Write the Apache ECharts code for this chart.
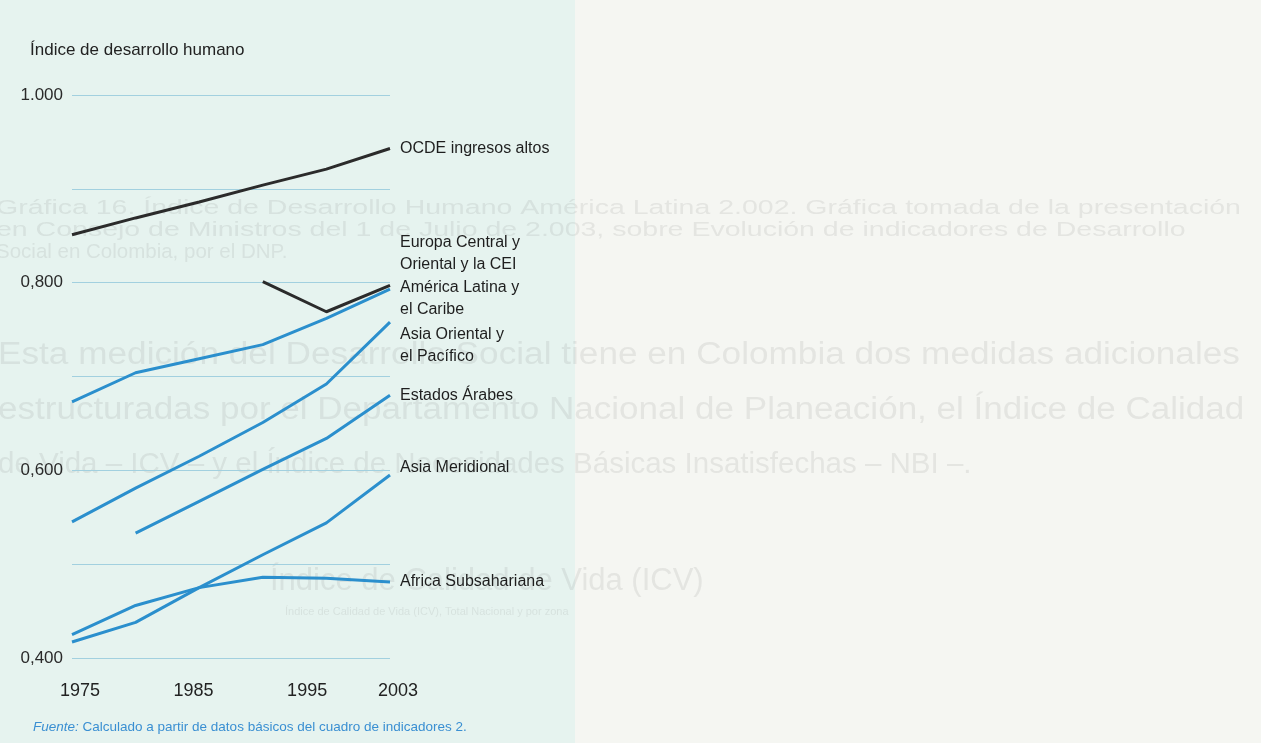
<!DOCTYPE html>
<html>
<head>
  <meta charset="utf-8" />
  <title>Índice de desarrollo humano</title>
  <script src="https://cdn.jsdelivr.net/npm/echarts@6/dist/echarts.min.js"></script>
  <style>
    html, body {
      height: 100%;
      margin: 0;
      padding: 0;
      background: #f5f6f2;
      overflow: hidden;
    }

    #main {
      width: 1261px;
      height: 743px;
    }
  </style>
</head>
<body>
  <div id="main"></div>

  <script type="text/javascript">
    // data points are evenly spaced in the original figure
    const years = ['1975', '1980', '1985', '1990', '1995', '2003'];
    const tickYears = [1975, 1985, 1995, 2003];
    const yTickValues = [0.4, 0.6, 0.8, 1.0];
    const yTickLabels = ['0,400', '0,600', '0,800', '1.000'];

    const ocde = [0.851, 0.869, 0.886, 0.904, 0.921, 0.943];
    const europa = [null, null, null, 0.801, 0.769, 0.797];
    const latina = [0.673, 0.704, 0.719, 0.734, 0.762, 0.793];
    const asiaOriental = [0.545, 0.581, 0.615, 0.651, 0.692, 0.758];
    const arabes = [null, 0.533, 0.567, 0.601, 0.634, 0.680];
    const asiaMeridional = [0.417, 0.438, 0.475, 0.510, 0.544, 0.595];
    const africa = [0.425, 0.456, 0.475, 0.486, 0.485, 0.481];

    const BLUE = '#2b8fcd';
    const BLACK = '#2b2b2b';
    const FONT = '"Liberation Sans", Arial, sans-serif';

    const chart = echarts.init(document.getElementById('main'));

    function lineSeries(name, label, data, color, dy) {
      return {
        name: name,
        type: 'line',
        xAxisIndex: 0,
        yAxisIndex: 0,
        data: data,
        showSymbol: false,
        symbol: 'none',
        connectNulls: false,
        lineStyle: { color: color, width: 3 },
        endLabel: {
          show: true,
          formatter: label,
          distance: 10,
          offset: [0, dy],
          color: '#1e1e1e',
          fontFamily: FONT,
          fontSize: 16,
          lineHeight: 22
        },
        emphasis: { disabled: true }
      };
    }

    // faint show-through of the scanned page behind the figure
    const ghost = 'rgba(110,110,110,0.12)';
    function ghostText(x, y, text, size, sx) {
      return {
        type: 'text', x: x, y: y, z: -5, silent: true, scaleX: sx || 1,
        style: { text: text, fill: ghost, font: size + 'px ' + FONT }
      };
    }

    const option = {
      backgroundColor: '#f5f6f2',
      animation: false,
      graphic: [
        {
          type: 'rect', left: 0, top: 0, z: -10, silent: true,
          shape: { width: 575, height: 743 },
          style: { fill: '#e6f3ef' }
        },
        ghostText(-4, 198, 'Gráfica 16. Índice de Desarrollo Humano América Latina 2.002. Gráfica tomada de la presentación', 20.5, 1.39),
        ghostText(-4, 220, 'en Consejo de Ministros del 1 de Julio de 2.003, sobre Evolución de indicadores de Desarrollo', 20.5, 1.39),
        ghostText(-4, 242, 'Social en Colombia, por el DNP.', 20.5),
        ghostText(-2, 340, 'Esta medición del Desarrollo Social tiene en Colombia dos medidas adicionales', 31, 1.135),
        ghostText(-2, 395, 'estructuradas por el Departamento Nacional de Planeación, el Índice de Calidad', 31, 1.13),
        ghostText(-2, 450, 'de Vida – ICV – y el Índice de Necesidades Básicas Insatisfechas – NBI –.', 29.5),
        ghostText(270, 566, 'Índice de Calidad de Vida (ICV)', 31),
        ghostText(285, 606, 'Índice de Calidad de Vida (ICV), Total Nacional y por zona', 11)
      ],
      title: [
        {
          text: 'Índice de desarrollo humano',
          left: 30,
          top: 42,
          padding: 0,
          textStyle: { fontFamily: FONT, fontSize: 17, fontWeight: 'normal', color: '#222' }
        },
        {
          text: '{i|Fuente:} Calculado a partir de datos básicos del cuadro de indicadores 2.',
          left: 33,
          top: 720,
          padding: 0,
          textStyle: {
            fontFamily: FONT, fontSize: 13.5, fontWeight: 'normal', color: '#3a8fd2',
            rich: { i: { fontStyle: 'italic', fontFamily: FONT, fontSize: 13.5, color: '#3a8fd2' } }
          }
        }
      ],
      grid: [
        { left: 72, top: 95, width: 318, height: 563 },
        { left: 80, top: 95, width: 318, height: 563 }
      ],
      xAxis: [
        {
          gridIndex: 0,
          type: 'category',
          boundaryGap: false,
          data: years,
          axisLine: { show: false },
          axisTick: { show: false },
          axisLabel: { show: false },
          splitLine: { show: false }
        },
        {
          gridIndex: 1,
          type: 'value',
          min: 1975,
          max: 2003,
          axisLine: { show: false },
          axisTick: { show: false },
          splitLine: { show: false },
          axisLabel: {
            customValues: tickYears,
            margin: 24,
            color: '#222',
            fontFamily: FONT,
            fontSize: 18,
            formatter: (v) => String(v)
          }
        }
      ],
      yAxis: [
        {
          gridIndex: 0,
          type: 'value',
          min: 0.4,
          max: 1.0,
          interval: 0.1,
          axisLine: { show: false },
          axisTick: { show: false },
          splitLine: { lineStyle: { color: '#a2d0df', width: 1 } },
          axisLabel: {
            customValues: yTickValues,
            margin: 9,
            color: '#2a2a2a',
            fontFamily: FONT,
            fontSize: 17,
            formatter: (v) => {
              const i = yTickValues.findIndex((t) => Math.abs(t - v) < 1e-6);
              return i >= 0 ? yTickLabels[i] : '';
            }
          }
        },
        {
          gridIndex: 1,
          type: 'value',
          show: false,
          min: 0.4,
          max: 1.0
        }
      ],
      series: [
        lineSeries('OCDE', 'OCDE ingresos altos', ocde, BLACK, 0),
        lineSeries('Europa', 'Europa Central y\nOriental y la CEI', europa, BLACK, -32),
        lineSeries('Latina', 'América Latina y\nel Caribe', latina, BLUE, 9),
        lineSeries('AsiaOriental', 'Asia Oriental y\nel Pacífico', asiaOriental, BLUE, 24),
        lineSeries('Arabes', 'Estados Árabes', arabes, BLUE, 0),
        lineSeries('AsiaMeridional', 'Asia Meridional', asiaMeridional, BLUE, -7),
        lineSeries('Africa', 'Africa Subsahariana', africa, BLUE, 0)
      ]
    };

    chart.setOption(option);
  </script>
</body>
</html>
